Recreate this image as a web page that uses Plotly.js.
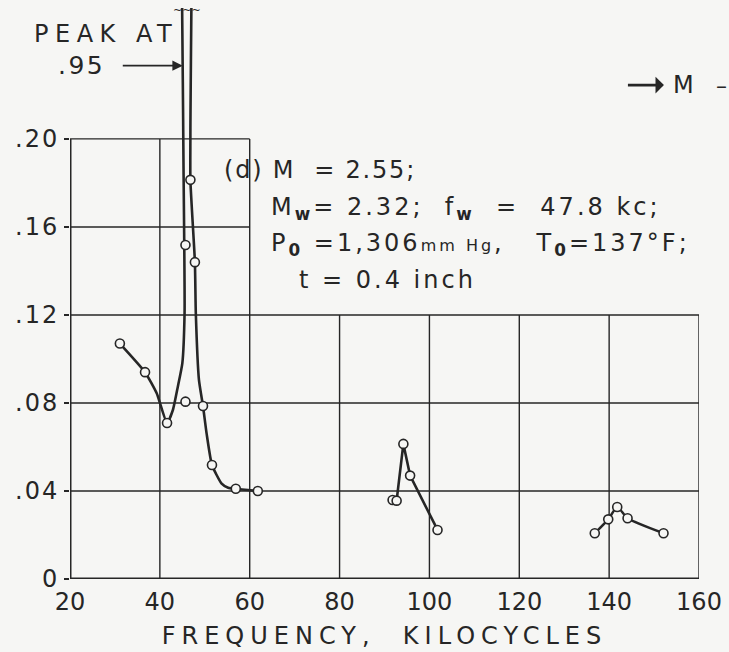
<!DOCTYPE html>
<html>
<head>
<meta charset="utf-8">
<script src="https://cdn.plot.ly/plotly-3.0.1.min.js"></script>
<style>
html,body{margin:0;padding:0;background:#f6f6f4;}
</style>
</head>
<body>
<div id="chart" style="width:729px;height:652px;"></div>
<script>
// ---- data ----
const xTicks = [20, 40, 60, 80, 100, 120, 140, 160];
const yTicks = [0, 0.04, 0.08, 0.12, 0.16, 0.20];
const yTickText = ['0', '.04', '.08', '.12', '.16', '.20'];

// measured points (open circles)
const ptsX = [31.1, 36.7, 41.6, 45.7, 45.7, 46.8, 47.8, 49.6, 51.6, 56.9, 61.8,
              91.8, 92.7, 94.2, 95.7, 101.8,
              136.8, 139.8, 141.8, 144.1, 152.1];
const ptsY = [0.107, 0.094, 0.0709, 0.0806, 0.1518, 0.1814, 0.144, 0.0786, 0.0518, 0.041, 0.040,
              0.0359, 0.0356, 0.0614, 0.047, 0.0223,
              0.0208, 0.0271, 0.0327, 0.0276, 0.0208];

// faired curve, low-frequency band (peak at .95)
const curveAX = [31.1, 36.7, 39.3, 41.6, 42.9, 44.0, 45.0, 45.5, 45.4, 45.2, 45.1,
                 46.8, 46.8, 46.8, 47.8, 48.0, 48.7, 49.6, 50.4, 51.6, 53.7, 55.2, 56.9, 61.8];
const curveAY = [0.107, 0.094, 0.0844, 0.0709, 0.0768, 0.0874, 0.098, 0.121, 0.159, 0.204, 0.95,
                 0.95, 0.204, 0.181, 0.144, 0.121, 0.0905, 0.0786, 0.0662, 0.0518, 0.0435, 0.0415, 0.041, 0.040];
// second band
const curveBX = [92.7, 94.2, 95.7, 101.8];
const curveBY = [0.0356, 0.0614, 0.047, 0.0223];
// third band
const curveCX = [136.8, 139.8, 141.8, 144.1, 152.1];
const curveCY = [0.0208, 0.0271, 0.0327, 0.0276, 0.0208];

const peakValue = 0.95;

// ---- grid (partial, as in the original sheet) ----
const ink = '#262626';
const bg = '#f6f6f4';
const shapes = [];
function vline(x, y1, w) { shapes.push({type:'line', xref:'x', yref:'y', x0:x, x1:x, y0:0, y1:y1, line:{color:ink, width:w}, layer:'below'}); }
function hline(y, x0, x1, w) { shapes.push({type:'line', xref:'x', yref:'y', x0:x0, x1:x1, y0:y, y1:y, line:{color:ink, width:w}, layer:'below'}); }
xTicks.forEach(x => {
  if (x === 20) return;
  vline(x, x <= 60 ? 0.20 : 0.12, 1.4);
});
yTicks.forEach(y => {
  if (y === 0) return;
  hline(y, 20, y <= 0.12 ? 160 : 60, 1.4);
});
// axes
vline(20, 0.20, 3);
hline(0, 20, 160, 3.2);

const font = 'DejaVu Sans, Arial, sans-serif';
const sp = (txt, ls) => '<span style="letter-spacing:' + ls + 'px">' + txt + '</span>';

const traces = [
  {x: curveAX, y: curveAY, mode: 'lines', line: {color: ink, width: 2.6, shape: 'spline', smoothing: 0.5}, hoverinfo: 'skip'},
  {x: curveBX, y: curveBY, mode: 'lines', line: {color: ink, width: 2.6}, hoverinfo: 'skip'},
  {x: curveCX, y: curveCY, mode: 'lines', line: {color: ink, width: 2.4, shape: 'spline', smoothing: 0.6}, hoverinfo: 'skip'},
  {x: ptsX, y: ptsY, mode: 'markers',
   marker: {symbol: 'circle', size: 9, color: bg, line: {color: ink, width: 1.6}}, cliponaxis: false}
];

const annotations = [
  {xref:'paper', yref:'paper', x:-0.06, y:0.9545, xanchor:'left', yanchor:'middle', showarrow:false,
   text:sp('PEAK AT', 6.5), font:{family:font, size:24, color:ink}},
  // ".95" with its arrow to the peak
  {xref:'x', yref:'y', x:45.1, y:0.2333, ax:-101, ay:0,
   text:sp('.' + String(peakValue).split('.')[1], 2.5), font:{family:font, size:25, color:ink},
   showarrow:true, arrowhead:2, arrowsize:1.3, arrowwidth:1.6, arrowcolor:ink, startstandoff:16, standoff:0},
  // break mark on top of the peak
  {xref:'x', yref:'paper', x:45.95, y:0.995, xanchor:'center', yanchor:'middle', showarrow:false,
   text:'~~~', font:{family:font, size:11, color:ink}},
  // flow direction
  {xref:'paper', yref:'paper', x:0.887, y:0.865, ax:56, ay:0, arrowside:'start',
   text:'M', font:{family:font, size:24, color:ink},
   showarrow:true, arrowhead:2, arrowsize:1.2, arrowwidth:2.8, arrowcolor:ink, startstandoff:8, standoff:0},
  {xref:'paper', yref:'paper', x:1.048, y:0.865, xanchor:'right', yanchor:'middle', showarrow:false,
   text:'–', font:{family:font, size:22, color:ink}},
  // condition block
  {xref:'paper', yref:'paper', x:0.2417, y:0.716, xanchor:'left', yanchor:'middle', showarrow:false,
   text:sp('(d) M  = 2.55;', 1.8), font:{family:font, size:24, color:ink}},
  {xref:'paper', yref:'paper', x:0.3164, y:0.648, xanchor:'left', yanchor:'middle', showarrow:false,
   text:sp('M<sub><b>w</b></sub>= 2.32;  f<sub><b>w</b></sub>  =  47.8 kc;', 3), font:{family:font, size:24, color:ink}},
  {xref:'paper', yref:'paper', x:0.3164, y:0.585, xanchor:'left', yanchor:'middle', showarrow:false,
   text:sp('P<sub><b>0</b></sub> =1,306<span style="font-size:16px">mm Hg</span>,   T<sub><b>0</b></sub>=137°F;', 3), font:{family:font, size:24, color:ink}},
  {xref:'paper', yref:'paper', x:0.361, y:0.5236, xanchor:'left', yanchor:'middle', showarrow:false,
   text:sp('t = 0.4 inch', 3), font:{family:font, size:24, color:ink}}
];

const layout = {
  width: 729, height: 652,
  margin: {l: 70, r: 30, t: 8, b: 73},
  paper_bgcolor: bg, plot_bgcolor: bg,
  showlegend: false,
  xaxis: {range: [20, 160], tickvals: xTicks, ticktext: xTicks.map(String),
          showgrid: false, zeroline: false, showline: false, ticks: '',
          ticklabelstandoff: 6,
          tickfont: {family: font, size: 24, color: ink}, automargin: false,
          title: {text: sp('FREQUENCY,  KILOCYCLES', 6), font: {family: font, size: 24, color: ink}, standoff: 12}},
  yaxis: {range: [0, 0.2595], tickvals: yTicks, ticktext: yTickText.map(t => sp(t, 2)),
          showgrid: false, zeroline: false, showline: false,
          ticks: 'outside', ticklen: 5, tickwidth: 1.4, tickcolor: ink,
          tickfont: {family: font, size: 24, color: ink}, automargin: false},
  shapes: shapes,
  annotations: annotations
};

Plotly.newPlot('chart', traces, layout, {displayModeBar: false, staticPlot: true});
</script>
</body>
</html>
